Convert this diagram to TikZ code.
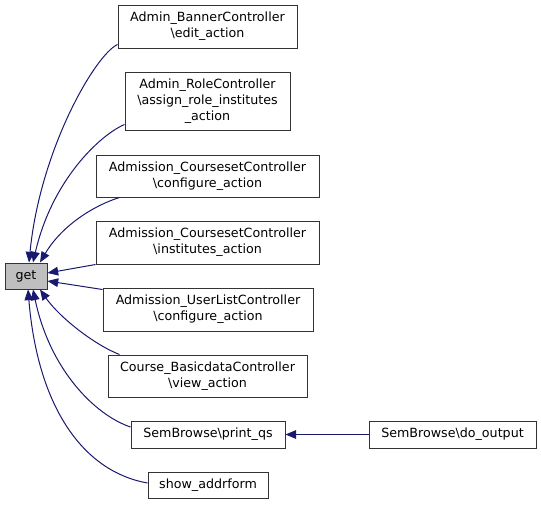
\documentclass[tikz,border=0pt]{standalone}
\usepackage{fontspec}
\setmainfont{DejaVu Sans}
\usetikzlibrary{arrows.meta}
\definecolor{edgeblue}{HTML}{191970}
\definecolor{getgray}{HTML}{BFBFBF}
\begin{document}
\begin{tikzpicture}[x=0.75pt,y=-0.75pt,
  box/.style={draw=black!80,line width=0.75pt,fill=white,inner sep=0pt,align=center,
    font=\fontsize{9.5pt}{12pt}\selectfont},
  edge/.style={draw=edgeblue,line width=0.75pt,
    -{Triangle[length=8pt,width=6.5pt,fill=edgeblue]}}]
\useasboundingbox (0,0) rectangle (541,504);
\node[box,minimum width=134.25pt,minimum height=32.25pt] (banner) at (207.5,26.5) {Admin\_BannerController\\\textbackslash edit\_action};
\node[box,minimum width=123.75pt,minimum height=43.5pt] (role) at (207.5,101) {Admin\_RoleController\\\textbackslash assign\_role\_institutes\\\_action};
\node[box,minimum width=167.25pt,minimum height=31.5pt] (conf) at (207.5,176) {Admission\_CoursesetController\\\textbackslash configure\_action};
\node[box,minimum width=167.25pt,minimum height=32.25pt] (inst) at (207.5,242.5) {Admission\_CoursesetController\\\textbackslash institutes\_action};
\node[box,fill=getgray,minimum width=31.5pt,minimum height=19.5pt] (get) at (26,276) {get};
\node[box,minimum width=157.5pt,minimum height=32.25pt] (ulist) at (208,309.5) {Admission\_UserListController\\\textbackslash configure\_action};
\node[box,minimum width=149.25pt,minimum height=31.5pt] (course) at (207.5,376) {Course\_BasicdataController\\\textbackslash view\_action};
\node[box,minimum width=115.5pt,minimum height=20.25pt] (printqs) at (208,434.5) {SemBrowse\textbackslash print\_qs};
\node[box,minimum width=90pt,minimum height=19.5pt] (addr) at (208,485) {show\_addrform};
\node[box,minimum width=125.25pt,minimum height=20.25pt] (doout) at (452.5,434.5) {SemBrowse\textbackslash do\_output};

\draw[edge] ([shift={(0,-4)}]banner.south west) .. controls (95,55) and (40,150) .. ([shift={(3,0)}]get.north);
\draw[edge] ([shift={(0,-6)}]role.south west) .. controls (100,135) and (52,180) .. ([shift={(7,0)}]get.north);
\draw[edge] ([shift={(24,0)}]conf.south west) .. controls (95,205) and (62,225) .. ([shift={(14,0)}]get.north);
\draw[edge] (inst.south west) -- ([shift={(0,-3)}]get.east);
\draw[edge] ([shift={(0,2)}]ulist.north west) -- ([shift={(0,5)}]get.east);
\draw[edge] ([shift={(12,0)}]course.north west) .. controls (95,345) and (60,318) .. ([shift={(14,0)}]get.south);
\draw[edge] ([shift={(0,-7.5)}]printqs.west) .. controls (95,415) and (50,370) .. ([shift={(7,0)}]get.south);
\draw[edge] ([shift={(0,-2)}]addr.west) .. controls (85,472) and (38,410) .. ([shift={(2,0)}]get.south);
\draw[edge] (doout.west) -- (printqs.east);
\end{tikzpicture}
\end{document}
